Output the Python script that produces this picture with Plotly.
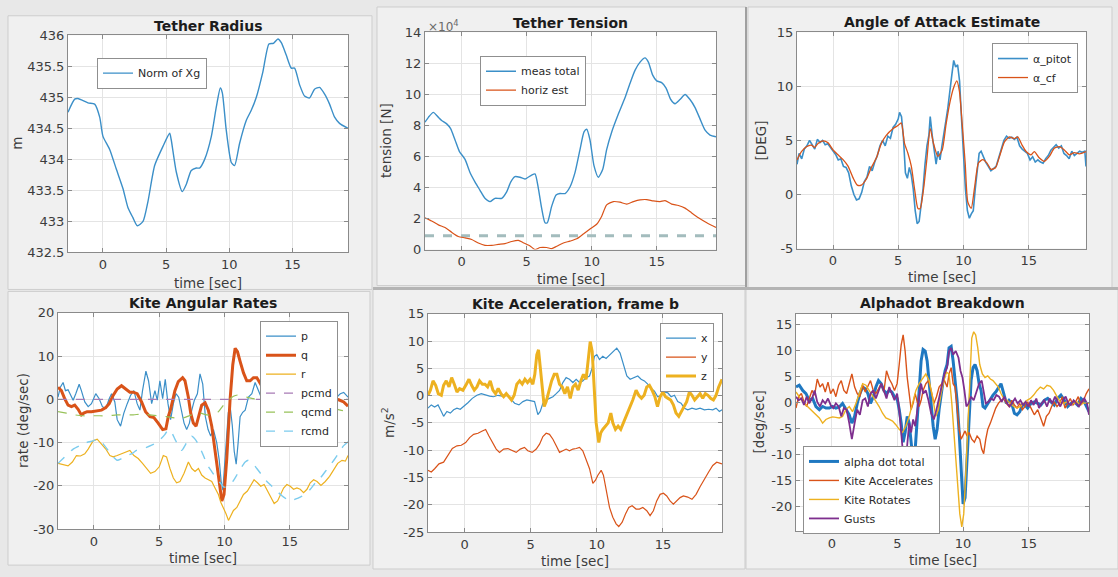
import plotly.graph_objects as go

W, H = 1118, 577

# ---------------- data (time [s], value) ----------------
tether_radius_m = [
    (-2.77, 434.76), (-2.24, 434.97), (-1.98, 434.98), (-1.19, 434.91), (-0.66, 434.89),
    (-0.26, 434.68), (0.0, 434.37), (0.53, 434.16), (1.06, 433.84), (1.58, 433.53),
    (1.98, 433.22), (2.37, 433.06), (2.72, 432.93), (3.17, 433.0), (3.56, 433.32),
    (4.09, 433.9), (4.75, 434.21), (5.28, 434.42), (5.4, 434.32), (5.8, 433.8),
    (6.28, 433.48), (6.6, 433.6), (6.99, 433.82), (7.39, 433.86), (7.65, 433.86),
    (8.05, 434.0), (8.58, 434.37), (8.97, 434.84), (9.29, 435.15), (9.45, 435.07),
    (9.76, 434.47), (10.16, 433.95), (10.42, 433.9), (10.82, 434.26), (11.35, 434.63),
    (11.74, 434.79), (12.14, 435.0), (12.66, 435.41), (13.14, 435.86), (13.5, 435.87),
    (13.85, 435.94), (14.12, 435.88), (14.51, 435.68), (14.91, 435.47), (15.17, 435.47),
    (15.57, 435.2), (15.96, 435.02), (16.36, 434.99), (16.75, 435.13), (17.15, 435.16),
    (17.55, 435.05), (17.94, 434.89), (18.34, 434.68), (18.73, 434.58), (19.4, 434.5),
]

# tether tension in units of 1e4 N
tension_meas_total = [
    (-2.82, 8.21), (-2.56, 8.52), (-2.18, 8.84), (-1.79, 8.52), (-1.54, 8.32), (-1.15, 8.1),
    (-0.85, 7.79), (-0.51, 7.06), (-0.18, 6.33), (0.26, 5.81), (0.64, 4.97), (1.03, 4.35),
    (1.41, 3.82), (1.79, 3.3), (2.18, 3.09), (2.56, 3.3), (3.08, 3.3), (3.46, 3.72),
    (3.77, 4.35), (4.1, 4.7), (4.49, 4.66), (4.87, 4.55), (5.38, 4.8), (5.64, 4.87),
    (5.9, 3.93), (6.15, 2.67), (6.41, 1.73), (6.59, 1.73), (6.92, 2.78), (7.26, 3.51),
    (7.56, 3.61), (7.95, 3.61), (8.33, 4.03), (8.72, 4.97), (9.1, 6.44), (9.41, 7.58),
    (9.62, 7.75), (9.87, 7.06), (10.18, 5.39), (10.51, 4.66), (10.85, 5.18), (11.15, 6.44),
    (11.54, 7.58), (12.05, 8.73), (12.56, 9.78), (12.95, 10.72), (13.33, 11.55), (13.72, 12.08),
    (14.1, 12.35), (14.36, 12.08), (14.69, 11.24), (15.0, 10.87), (15.38, 10.76), (15.72, 10.41),
    (16.08, 9.67), (16.41, 9.4), (16.79, 9.67), (17.18, 9.99), (17.56, 9.67), (17.95, 9.15),
    (18.33, 8.42), (18.72, 7.69), (19.1, 7.38), (19.56, 7.27),
]
tension_horiz_est = [
    (-2.82, 2.05), (-2.31, 1.84), (-1.79, 1.59), (-1.28, 1.42), (-0.77, 1.11), (-0.26, 0.84),
    (0.26, 0.75), (0.77, 0.65), (1.28, 0.42), (1.79, 0.27), (2.31, 0.27), (2.82, 0.33),
    (3.33, 0.38), (3.85, 0.52), (4.36, 0.59), (4.74, 0.44), (5.26, 0.23), (5.64, 0.0),
    (6.03, 0.13), (6.54, 0.13), (6.92, 0.06), (7.31, 0.21), (7.82, 0.42), (8.33, 0.54),
    (8.85, 0.69), (9.36, 1.0), (9.87, 1.32), (10.38, 1.63), (10.77, 2.15), (11.15, 2.88),
    (11.67, 3.09), (12.18, 3.05), (12.69, 2.93), (13.21, 3.09), (13.72, 3.2), (14.23, 3.22),
    (14.74, 3.13), (15.26, 3.09), (15.64, 3.15), (16.15, 2.93), (16.67, 2.84), (17.18, 2.67),
    (17.69, 2.36), (18.21, 2.05), (18.85, 1.73), (19.56, 1.42),
]
tension_limit = [(-2.82, 0.88), (19.56, 0.88)]

alpha_pitot = [
    (-2.76, 2.8), (-2.6, 3.8), (-2.4, 3.3), (-2.2, 4.2), (-2.0, 4.5), (-1.8, 5.0), (-1.6, 4.6),
    (-1.4, 4.2), (-1.2, 5.1), (-1.0, 4.8), (-0.8, 5.0), (-0.6, 4.6), (-0.4, 4.7), (-0.2, 4.4),
    (0.0, 4.0), (0.2, 3.7), (0.4, 3.2), (0.6, 3.3), (0.8, 2.6), (1.0, 2.5), (1.2, 2.0),
    (1.4, 0.8), (1.6, 0.0), (1.8, -0.5), (2.0, -0.4), (2.2, 0.2), (2.4, 1.2), (2.6, 1.6),
    (2.8, 2.6), (3.0, 2.2), (3.2, 3.0), (3.4, 3.6), (3.6, 4.5), (3.8, 5.0), (4.0, 4.5),
    (4.2, 5.4), (4.4, 5.2), (4.6, 6.2), (4.8, 6.5), (5.0, 7.0), (5.1, 7.6), (5.25, 7.2),
    (5.4, 5.2), (5.55, 2.0), (5.7, 1.5), (5.85, 2.5), (6.0, 1.8), (6.15, 0.5), (6.3, -1.5),
    (6.45, -2.7), (6.6, -2.5), (6.75, -1.2), (6.9, 0.5), (7.05, 2.8), (7.2, 4.5), (7.35, 5.5),
    (7.45, 7.2), (7.6, 5.5), (7.75, 4.2), (7.9, 2.8), (8.05, 4.0), (8.2, 3.2), (8.35, 4.5),
    (8.5, 5.5), (8.65, 6.8), (8.8, 8.0), (8.95, 9.8), (9.1, 11.0), (9.25, 12.4), (9.4, 11.8),
    (9.55, 12.0), (9.7, 10.5), (9.85, 7.0), (10.0, 3.5), (10.15, 0.5), (10.3, -1.5),
    (10.45, -2.2), (10.6, -1.8), (10.75, -1.5), (10.9, 0.5), (11.05, 2.5), (11.2, 3.8),
    (11.35, 4.0), (11.5, 3.5), (11.7, 3.0), (11.9, 2.6), (12.1, 2.2), (12.3, 2.4), (12.5, 2.6),
    (12.7, 3.4), (12.9, 4.3), (13.1, 5.0), (13.3, 5.4), (13.5, 5.2), (13.7, 5.3), (13.9, 5.1),
    (14.1, 5.3), (14.3, 4.5), (14.5, 4.2), (14.7, 4.0), (14.9, 3.8), (15.1, 3.2), (15.3, 3.5),
    (15.5, 3.0), (15.7, 3.2), (15.9, 3.0), (16.1, 2.9), (16.3, 3.3), (16.5, 3.6), (16.7, 4.1),
    (16.9, 4.4), (17.1, 4.6), (17.3, 4.3), (17.5, 4.5), (17.7, 3.8), (17.9, 3.6), (18.1, 3.3),
    (18.3, 4.0), (18.5, 3.6), (18.7, 3.8), (18.9, 4.0), (19.1, 3.9), (19.3, 4.0), (19.39, 2.6),
]
alpha_cf = [
    (-2.76, 3.2), (-2.42, 3.97), (-2.04, 4.42), (-1.66, 4.57), (-1.4, 4.36), (-1.15, 4.72),
    (-0.77, 4.96), (-0.38, 4.78), (0.0, 4.12), (0.38, 3.67), (0.77, 3.22), (1.15, 2.62),
    (1.53, 1.56), (1.86, 0.87), (2.17, 0.87), (2.55, 1.41), (2.93, 2.47), (3.32, 3.37),
    (3.7, 4.72), (4.08, 5.47), (4.59, 6.08), (4.97, 6.38), (5.23, 6.62), (5.48, 4.72),
    (5.74, 3.82), (6.0, 2.62), (6.25, 0.51), (6.51, -1.29), (6.68, -1.29), (6.94, 0.51),
    (7.19, 3.22), (7.45, 6.08), (7.7, 4.72), (8.04, 3.52), (8.37, 4.12), (8.67, 6.53),
    (8.98, 8.63), (9.23, 9.83), (9.49, 10.5), (9.69, 9.53), (9.9, 6.53), (10.13, 2.92),
    (10.33, -0.69), (10.59, -1.29), (10.85, 0.66), (11.15, 2.92), (11.48, 3.22), (11.79, 2.92),
    (12.12, 2.32), (12.45, 2.47), (12.76, 3.52), (13.14, 4.87), (13.52, 5.32), (13.9, 5.17),
    (14.16, 5.32), (14.49, 4.57), (14.8, 3.97), (15.18, 3.67), (15.43, 3.97), (15.82, 3.37),
    (16.2, 3.07), (16.58, 3.52), (16.96, 4.27), (17.35, 4.42), (17.73, 4.12), (18.11, 3.67),
    (18.49, 3.88), (18.88, 3.76), (19.39, 3.97),
]

rate_p = [
    (-2.74, 0.5), (-2.56, 2.8), (-2.35, 3.9), (-2.17, 2.0), (-1.97, 2.2), (-1.79, 0.9),
    (-1.58, -0.2), (-1.38, 1.3), (-1.12, 3.5), (-0.95, 2.0), (-0.69, -0.6), (-0.43, -1.7),
    (-0.18, -1.0), (0.15, 1.3), (0.41, 0.15), (0.66, -1.7), (0.92, -2.1), (1.18, 0.15),
    (1.36, 1.3), (1.61, -0.6), (1.79, -4.7), (2.05, -6.2), (2.3, -3.2), (2.56, -1.0),
    (2.81, 0.9), (3.07, 2.0), (3.32, -1.0), (3.53, -2.5), (3.73, 2.0), (3.99, 6.5),
    (4.19, 4.3), (4.43, -1.0), (4.68, 2.0), (4.86, -0.2), (5.06, 4.3), (5.27, 0.15),
    (5.47, 4.6), (5.68, -1.0), (5.88, -4.7), (6.09, -1.0), (6.29, 1.3), (6.5, 0.5),
    (6.71, -2.5), (6.91, -5.5), (7.11, -7.0), (7.32, -5.5), (7.5, -2.5), (7.7, -0.2),
    (7.93, 1.3), (8.13, 5.9), (8.34, 3.5), (8.54, -4.0), (8.75, -7.0), (8.95, -8.5),
    (9.16, -7.0), (9.41, -10.0), (9.6, -14.0), (9.75, -19.0), (9.88, -21.0), (10.0, -16.0),
    (10.15, -8.0), (10.3, -3.0), (10.45, -2.0), (10.6, -6.0), (10.75, -12.0), (10.9, -15.0),
    (11.05, -10.0), (11.2, -4.0), (11.4, -3.0), (11.59, -2.5), (11.84, 0.5), (12.1, 1.3),
    (12.35, 3.9), (12.6, 2.0), (12.86, 0.15), (13.12, -1.0), (13.37, -1.3), (13.62, -1.3),
    (13.88, -3.2), (14.01, -4.7), (14.27, -2.5), (14.53, -3.6), (14.75, -3.2), (14.99, -5.5),
    (15.24, -5.8), (15.5, -3.6), (15.75, -4.0), (16.01, -1.7), (16.27, -3.6), (16.55, -1.7),
    (16.83, -0.6), (17.1, -0.2), (17.34, 0.5), (17.72, -0.2), (18.1, -0.6), (18.36, -0.2),
    (18.6, 0.5), (18.87, 1.3), (19.13, 1.6), (19.46, 0.5),
]
rate_q = [
    (-2.74, 2.8), (-2.48, 2.0), (-2.23, 0.15), (-1.97, -1.35), (-1.71, -1.7), (-1.46, -1.35),
    (-1.2, -2.3), (-0.95, -3.6), (-0.77, -3.2), (-0.51, -2.85), (-0.18, -2.85), (0.2, -2.7),
    (0.59, -2.5), (0.92, -1.9), (1.18, -1.0), (1.48, 0.9), (1.79, 2.4), (2.12, 3.15),
    (2.46, 2.4), (2.76, 1.65), (3.02, 1.65), (3.32, 1.3), (3.66, -0.6), (3.96, -2.85),
    (4.3, -4.0), (4.6, -4.2), (4.93, -5.5), (5.27, -7.0), (5.52, -6.8), (5.7, -4.0),
    (5.88, -2.3), (6.21, 2.0), (6.47, 4.1), (6.8, 5.0), (6.98, 4.3), (7.24, 0.5),
    (7.42, -3.2), (7.62, -5.5), (7.83, -6.2), (8.03, -4.0), (8.26, -1.35), (8.52, -0.8),
    (8.77, -2.5), (9.03, -6.2), (9.28, -11.5), (9.54, -18.2), (9.8, -23.5), (9.97, -22.0),
    (10.18, -13.7), (10.43, -0.2), (10.64, 8.0), (10.82, 11.8), (11.0, 11.0), (11.2, 8.8),
    (11.46, 6.1), (11.71, 4.3), (11.97, 4.3), (12.22, 5.0), (12.48, 5.0), (12.78, 3.5),
    (13.12, 1.65), (13.5, 0.15), (13.88, -0.6), (14.27, -1.0), (14.65, -0.4), (15.04, 0.15),
    (15.42, 0.5), (15.8, 0.5), (16.32, 0.7), (16.83, 0.5), (17.34, 0.5), (17.85, 0.4),
    (18.36, 0.15), (18.75, -0.1), (19.13, -0.6), (19.46, -1.6),
]
rate_r = [
    (-2.74, -14.8), (-2.35, -15.1), (-1.97, -15.4), (-1.64, -14.5), (-1.33, -13.0), (-1.02, -13.1),
    (-0.69, -12.6), (-0.43, -11.5), (-0.05, -9.6), (0.26, -9.2), (0.59, -10.3), (0.92, -11.5),
    (1.23, -13.0), (1.48, -13.3), (1.79, -13.0), (2.12, -12.6), (2.46, -12.2), (2.76, -11.8),
    (3.07, -13.0), (3.4, -13.7), (3.73, -14.8), (4.04, -16.0), (4.35, -17.1), (4.68, -16.7),
    (5.01, -15.6), (5.32, -13.0), (5.57, -13.3), (5.83, -16.0), (6.09, -18.2), (6.34, -19.3),
    (6.6, -19.0), (6.91, -17.1), (7.24, -14.5), (7.5, -16.0), (7.75, -16.7), (8.01, -16.0),
    (8.26, -17.5), (8.52, -18.2), (8.77, -18.6), (9.03, -19.0), (9.28, -20.5), (9.54, -22.0),
    (9.72, -23.8), (9.92, -25.0), (10.13, -26.5), (10.31, -28.0), (10.49, -26.8), (10.69, -25.7),
    (10.95, -25.0), (11.2, -23.5), (11.46, -22.0), (11.76, -21.2), (12.02, -19.7), (12.27, -18.6),
    (12.53, -19.3), (12.78, -20.1), (13.04, -19.7), (13.3, -21.2), (13.55, -22.7), (13.81, -24.1),
    (14.07, -23.5), (14.27, -22.3), (14.53, -20.5), (14.78, -19.7), (15.04, -20.1), (15.29, -20.8),
    (15.55, -20.5), (15.8, -20.8), (16.06, -21.6), (16.32, -20.8), (16.57, -19.3), (16.83, -18.6),
    (17.09, -19.0), (17.39, -19.9), (17.72, -19.0), (18.05, -17.8), (18.36, -16.3), (18.67, -14.8),
    (19.0, -14.1), (19.26, -14.3), (19.46, -13.0),
]
rate_pcmd = [(-2.74, 0.0), (19.46, 0.0)]
rate_qcmd = [
    (-2.74, -2.85), (-2.1, -3.2), (-1.46, -3.6), (-0.82, -3.8), (-0.18, -3.8), (0.46, -3.8),
    (1.1, -3.8), (1.74, -3.6), (2.38, -3.6), (3.02, -3.6), (3.66, -3.4), (4.3, -3.6),
    (4.93, -3.8), (5.57, -4.0), (6.21, -4.3), (6.85, -4.3), (7.49, -3.6), (8.13, -3.2),
    (8.64, -3.6), (9.16, -3.6), (9.54, -2.85), (9.92, -1.35), (10.31, -0.2), (10.69, 0.7),
    (11.0, 1.0), (11.33, 0.9), (11.71, 0.5), (12.22, 0.15), (12.73, -0.2), (13.25, -0.6),
    (13.76, -1.1), (14.27, -1.6), (14.78, -1.9), (15.29, -1.6), (15.8, -1.35), (16.32, -1.1),
    (16.83, -1.35), (17.34, -1.6), (17.85, -1.9), (18.36, -2.1), (18.87, -2.5), (19.46, -2.85),
]
rate_rcmd = [
    (-2.74, -14.8), (-2.35, -13.7), (-1.97, -12.6), (-1.58, -11.5), (-1.07, -10.7), (-0.56, -10.0),
    (-0.05, -9.6), (0.33, -9.2), (0.72, -10.3), (1.1, -11.8), (1.48, -13.3), (1.79, -14.1),
    (2.12, -13.7), (2.51, -13.0), (2.89, -12.6), (3.27, -11.8), (3.66, -11.5), (4.04, -11.1),
    (4.43, -10.6), (4.81, -10.0), (5.12, -9.2), (5.45, -8.1), (5.7, -7.0), (5.96, -7.7),
    (6.21, -9.2), (6.47, -10.7), (6.73, -11.8), (6.98, -10.7), (7.24, -9.2), (7.49, -8.5),
    (7.75, -9.2), (8.06, -10.7), (8.39, -13.0), (8.7, -15.2), (9.03, -16.7), (9.36, -18.2),
    (9.67, -19.3), (9.97, -20.3), (10.31, -20.1), (10.64, -19.0), (10.95, -17.5), (11.25, -16.0),
    (11.59, -14.5), (11.84, -14.1), (12.17, -14.8), (12.48, -16.0), (12.86, -17.5), (13.25, -19.0),
    (13.63, -20.1), (14.01, -21.2), (14.4, -22.3), (14.78, -23.1), (15.09, -23.5), (15.42, -23.1),
    (15.8, -22.6), (16.19, -22.0), (16.57, -20.8), (16.96, -19.3), (17.34, -18.2), (17.72, -16.7),
    (18.11, -15.2), (18.49, -13.6), (18.87, -11.8), (19.13, -10.7), (19.46, -9.8),
]

accel_x = [
    (-2.77, -2.3), (-2.52, -1.7), (-2.27, -2.1), (-2.01, -1.7), (-1.76, -2.9), (-1.59, -3.8),
    (-1.34, -2.9), (-1.08, -3.2), (-0.83, -2.6), (-0.58, -2.3), (-0.33, -2.5), (-0.08, -2.0),
    (0.25, -1.3), (0.58, -0.5), (0.93, 0.06), (1.26, 0.36), (1.59, 0.06), (1.89, -0.1),
    (2.19, -0.2), (2.52, 0.06), (2.85, -0.1), (3.15, 0.36), (3.45, -0.5), (3.78, -1.4),
    (4.11, -1.7), (4.41, -1.1), (4.71, -0.8), (5.04, -1.0), (5.29, -1.1), (5.54, -3.5),
    (5.72, -2.9), (5.92, -1.4), (6.17, -0.8), (6.42, -0.5), (6.68, -0.2), (6.93, 0.36),
    (7.18, 0.96), (7.43, 2.4), (7.68, 3.3), (7.93, 3.0), (8.19, 2.4), (8.44, 3.0),
    (8.69, 2.4), (8.94, 2.7), (9.19, 3.3), (9.45, 3.6), (9.65, 5.1), (9.82, 7.2),
    (10.0, 7.5), (10.2, 6.6), (10.45, 7.2), (10.7, 6.8), (11.0, 7.5), (11.26, 8.1),
    (11.51, 8.7), (11.76, 7.8), (12.01, 5.7), (12.27, 3.6), (12.52, 3.0), (12.77, 3.3),
    (13.1, 3.6), (13.35, 3.0), (13.6, 2.7), (13.85, 2.1), (14.11, 1.3), (14.36, 0.8),
    (14.61, -0.2), (14.86, 0.06), (15.11, 0.66), (15.37, 0.5), (15.62, -0.2), (15.87, 0.06),
    (16.12, -1.1), (16.37, -1.4), (16.63, -2.3), (16.88, -2.6), (17.2, -2.3), (17.51, -2.5),
    (17.81, -2.3), (18.14, -2.6), (18.46, -2.5), (18.77, -2.6), (19.02, -2.3), (19.27, -2.9),
    (19.47, -2.6),
]
accel_y = [
    (-2.77, -13.7), (-2.52, -14.0), (-2.27, -13.4), (-1.94, -12.5), (-1.59, -12.2), (-1.26, -11.0),
    (-0.93, -9.7), (-0.58, -9.2), (-0.25, -9.1), (0.08, -8.6), (0.38, -7.7), (0.68, -7.1),
    (1.01, -6.9), (1.34, -6.5), (1.59, -6.2), (1.84, -7.4), (2.09, -8.6), (2.39, -9.8),
    (2.64, -10.4), (2.95, -9.8), (3.27, -9.7), (3.6, -10.1), (3.9, -10.4), (4.21, -9.8),
    (4.53, -9.5), (4.78, -10.1), (5.11, -10.4), (5.42, -9.8), (5.67, -8.9), (5.92, -7.5),
    (6.17, -6.9), (6.42, -7.1), (6.68, -8.0), (6.93, -9.2), (7.18, -10.4), (7.43, -10.1),
    (7.68, -9.8), (7.93, -10.1), (8.19, -9.8), (8.44, -9.7), (8.69, -9.5), (8.94, -10.1),
    (9.19, -11.6), (9.45, -13.4), (9.7, -16.1), (9.9, -15.5), (10.08, -14.6), (10.33, -13.7),
    (10.5, -14.6), (10.7, -17.0), (10.96, -20.5), (11.21, -22.3), (11.46, -23.5), (11.66, -24.0),
    (11.92, -23.2), (12.17, -21.7), (12.42, -20.5), (12.67, -20.2), (12.97, -20.8), (13.22, -20.8),
    (13.48, -20.5), (13.78, -21.1), (14.03, -22.0), (14.28, -21.1), (14.53, -19.3), (14.79, -18.1),
    (15.04, -17.9), (15.29, -18.4), (15.54, -19.3), (15.79, -19.9), (16.04, -19.3), (16.3, -18.7),
    (16.55, -18.4), (16.88, -18.6), (17.2, -19.0), (17.51, -18.1), (17.81, -16.7), (18.14, -15.2),
    (18.46, -14.0), (18.77, -12.8), (19.07, -12.2), (19.47, -12.5),
]
accel_z = [
    (-2.77, 0.06), (-2.59, 1.0), (-2.39, 2.7), (-2.19, 1.9), (-1.99, 0.36), (-1.76, 0.06),
    (-1.59, 1.9), (-1.39, 2.7), (-1.18, 1.6), (-0.98, 3.3), (-0.78, 2.1), (-0.58, 0.66),
    (-0.38, 1.3), (-0.13, 1.0), (0.13, 2.1), (0.33, 3.0), (0.53, 1.9), (0.73, 1.0),
    (0.93, 1.6), (1.13, 2.7), (1.34, 2.1), (1.54, 2.1), (1.74, 1.6), (1.94, 2.7),
    (2.14, 1.0), (2.34, 0.36), (2.54, 1.3), (2.75, 0.36), (2.95, -0.2), (3.15, 0.36),
    (3.35, -0.2), (3.55, -0.8), (3.75, 0.06), (3.95, 2.1), (4.16, 2.7), (4.36, 2.1),
    (4.56, 3.0), (4.76, 2.4), (4.96, 3.0), (5.16, 2.1), (5.31, 3.9), (5.46, 7.5),
    (5.59, 8.4), (5.72, 5.1), (5.87, 1.0), (6.02, -2.0), (6.17, -1.1), (6.37, 1.0),
    (6.58, 2.7), (6.78, 3.9), (6.98, 3.9), (7.18, 2.1), (7.38, 1.6), (7.58, 0.36),
    (7.78, 1.6), (7.99, -0.5), (8.19, 1.6), (8.39, 2.1), (8.59, 1.0), (8.79, 2.7),
    (8.99, 3.9), (9.19, 3.0), (9.34, 6.3), (9.5, 9.9), (9.65, 8.1), (9.8, 2.1),
    (9.95, -5.0), (10.15, -8.6), (10.3, -6.8), (10.45, -6.2), (10.65, -5.6), (10.86, -5.0),
    (11.06, -3.2), (11.21, -5.0), (11.41, -6.2), (11.61, -5.6), (11.81, -6.2), (12.01, -5.0),
    (12.22, -3.8), (12.47, -2.6), (12.72, -0.8), (12.97, 1.0), (13.17, 0.06), (13.38, -0.5),
    (13.58, 0.06), (13.78, 1.6), (13.98, 1.9), (14.18, 1.0), (14.39, -0.2), (14.59, -2.0),
    (14.79, -0.2), (15.0, 0.66), (15.19, -0.2), (15.39, -0.5), (15.59, -0.8), (15.79, -1.7),
    (15.99, -3.2), (16.2, -3.8), (16.4, -2.9), (16.6, -2.0), (16.8, -1.1), (17.0, 0.66),
    (17.2, 0.06), (17.4, -0.8), (17.61, -0.2), (17.81, 0.36), (18.01, -0.5), (18.21, 0.36),
    (18.41, 0.06), (18.61, -0.5), (18.82, -0.8), (19.02, 0.06), (19.22, 1.6), (19.47, 3.0),
]

alphadot_total = [
    (-2.74, 2.95), (-2.49, 3.3), (-2.23, 2.3), (-1.98, 1.7), (-1.73, 0.4), (-1.47, 0.75),
    (-1.22, -0.8), (-0.96, -1.4), (-0.71, -0.8), (-0.46, -1.1), (-0.2, -1.1), (0.05, -0.8),
    (0.3, -1.1), (0.56, -0.9), (0.81, -0.2), (1.07, -1.3), (1.32, -2.4), (1.52, -4.0),
    (1.73, -2.7), (1.93, -0.2), (2.13, 1.7), (2.34, 2.95), (2.54, 2.6), (2.74, 1.7),
    (2.94, -0.2), (3.15, 1.1), (3.35, 2.95), (3.55, 4.2), (3.76, 3.6), (3.96, 2.3),
    (4.16, 1.7), (4.37, 2.3), (4.57, 2.0), (4.77, 1.1), (4.97, 0.75), (5.13, -1.4),
    (5.28, -4.0), (5.43, -7.7), (5.58, -5.8), (5.74, -2.7), (5.89, -4.0), (6.04, -7.7),
    (6.19, -11.5), (6.35, -9.0), (6.5, -2.7), (6.65, 3.6), (6.8, 8.0), (6.95, 10.2),
    (7.11, 9.9), (7.26, 8.0), (7.41, 3.6), (7.56, -1.4), (7.72, -4.6), (7.87, -7.1),
    (8.02, -5.2), (8.17, -1.4), (8.32, 1.7), (8.48, 4.2), (8.63, 6.1), (8.78, 7.3),
    (8.93, 10.5), (9.09, 10.8), (9.24, 8.0), (9.39, 4.8), (9.54, 0.4), (9.7, -5.8),
    (9.85, -14.0), (10.0, -19.6), (10.15, -18.4), (10.3, -10.2), (10.46, -1.4), (10.61, 4.2),
    (10.76, 6.7), (10.91, 7.3), (11.07, 6.1), (11.22, 3.6), (11.37, 2.3), (11.52, -0.8),
    (11.67, -1.1), (11.88, -0.2), (12.08, 0.75), (12.28, 1.4), (12.49, 2.0), (12.69, 2.95),
    (12.89, 3.6), (13.1, 1.7), (13.3, -0.2), (13.5, 0.4), (13.71, -0.2), (13.91, -2.1),
    (14.11, -2.4), (14.32, -1.8), (14.52, -0.5), (14.72, -0.5), (14.92, -1.1), (15.18, -0.2),
    (15.43, 0.1), (15.69, -0.2), (15.94, -0.5), (16.19, 0.4), (16.45, 0.75), (16.7, 0.1),
    (16.95, -0.5), (17.21, 0.75), (17.46, 1.4), (17.72, 0.4), (17.97, -0.8), (18.22, -0.2),
    (18.48, 0.1), (18.73, -0.5), (18.99, 0.75), (19.24, 0.1), (19.6, -1.8),
]
alphadot_accel = [
    (-2.74, -1.1), (-2.54, 1.1), (-2.33, 1.7), (-2.13, 0.1), (-1.93, -0.8), (-1.73, 0.75),
    (-1.52, 2.3), (-1.32, 1.4), (-1.12, 4.5), (-0.91, 2.95), (-0.71, 3.6), (-0.51, 2.0),
    (-0.3, 3.9), (-0.1, 1.7), (0.1, 2.6), (0.3, 1.1), (0.51, 3.3), (0.71, 4.2),
    (0.91, 2.3), (1.12, 1.7), (1.32, 3.6), (1.52, 5.5), (1.73, 2.95), (1.93, 1.7),
    (2.13, 1.1), (2.34, 3.3), (2.54, 2.0), (2.74, 2.95), (2.94, 4.2), (3.15, 2.3),
    (3.35, 1.7), (3.55, 2.6), (3.76, 3.6), (3.96, 2.0), (4.16, 6.1), (4.37, 4.5),
    (4.57, 3.6), (4.77, 2.3), (4.97, 3.6), (5.13, 7.3), (5.28, 11.1), (5.43, 13.0),
    (5.58, 9.9), (5.74, 4.8), (5.89, 1.7), (6.04, -1.4), (6.19, -0.2), (6.35, 1.7),
    (6.5, 0.1), (6.65, -0.8), (6.8, 0.4), (6.95, 2.3), (7.16, 3.6), (7.36, 4.2),
    (7.56, 2.3), (7.77, -0.2), (7.97, 1.1), (8.17, 2.95), (8.38, 3.6), (8.58, 4.2),
    (8.78, 2.95), (8.93, 5.5), (9.09, 6.7), (9.24, 3.6), (9.39, 2.95), (9.54, -1.4),
    (9.7, -5.2), (9.85, -7.1), (10.0, -6.2), (10.15, -5.5), (10.3, -6.5), (10.46, -5.8),
    (10.66, -7.1), (10.86, -7.7), (11.07, -6.5), (11.27, -7.1), (11.42, -9.0), (11.57, -9.9),
    (11.73, -7.1), (11.88, -5.2), (12.08, -4.0), (12.28, -2.4), (12.49, -1.1), (12.69, -0.2),
    (12.89, 0.4), (13.1, 0.75), (13.3, -0.2), (13.5, -0.8), (13.71, 0.4), (13.91, -0.5),
    (14.11, -1.1), (14.32, -0.2), (14.52, -1.4), (14.72, -0.8), (14.92, 0.1), (15.18, -1.1),
    (15.43, -2.4), (15.69, -1.4), (15.94, -3.3), (16.14, -4.6), (16.35, -2.7), (16.55, -2.1),
    (16.75, -0.8), (16.95, 0.1), (17.16, -0.8), (17.36, -0.2), (17.56, 1.1), (17.77, -1.1),
    (17.97, -0.2), (18.17, 0.75), (18.38, -0.5), (18.58, 0.1), (18.78, 1.1), (18.99, -0.5),
    (19.19, 0.4), (19.39, 1.7), (19.6, 2.6),
]
alphadot_rotate = [
    (-2.74, 2.0), (-2.49, 1.1), (-2.23, 0.1), (-1.98, -0.5), (-1.73, -1.1), (-1.47, -1.8),
    (-1.22, -2.4), (-0.96, -3.0), (-0.71, -4.0), (-0.46, -3.3), (-0.2, -3.0), (0.05, -2.8),
    (0.3, -2.9), (0.56, -3.0), (0.81, -2.7), (1.07, -1.4), (1.32, -0.8), (1.57, -1.8),
    (1.83, -0.2), (2.08, 1.7), (2.34, 3.6), (2.59, 3.3), (2.84, 2.3), (3.1, 1.1),
    (3.35, 0.1), (3.6, -0.8), (3.86, -2.1), (4.11, -3.0), (4.37, -3.3), (4.62, -3.6),
    (4.87, -4.3), (5.13, -5.2), (5.38, -5.8), (5.63, -4.6), (5.89, -2.7), (6.14, -0.2),
    (6.4, 2.3), (6.65, 3.6), (6.9, 4.5), (7.16, 5.5), (7.41, 4.2), (7.67, 1.1),
    (7.92, -2.7), (8.12, -1.4), (8.32, 1.7), (8.53, 4.2), (8.73, 5.8), (8.93, 5.5),
    (9.14, -0.2), (9.29, -5.8), (9.44, -11.5), (9.59, -16.5), (9.75, -21.5), (9.9, -24.0),
    (10.05, -21.5), (10.2, -14.0), (10.36, -4.0), (10.51, 5.5), (10.66, 12.4), (10.81, 13.6),
    (10.96, 13.0), (11.12, 10.5), (11.27, 7.3), (11.47, 5.5), (11.67, 4.8), (11.88, 5.1),
    (12.08, 4.5), (12.28, 4.2), (12.49, 3.6), (12.69, 2.95), (12.89, 1.7), (13.1, 0.75),
    (13.35, 0.4), (13.6, -0.2), (13.86, -0.8), (14.11, -1.1), (14.37, -0.8), (14.62, -0.2),
    (14.87, 0.4), (15.13, 0.75), (15.38, 1.4), (15.64, 2.3), (15.89, 2.95), (16.14, 2.6),
    (16.4, 3.3), (16.65, 3.1), (16.9, 2.3), (17.16, 1.1), (17.41, 0.1), (17.66, -0.2),
    (17.92, 0.1), (18.17, -0.5), (18.43, -0.2), (18.68, 0.1), (18.94, -0.5), (19.19, -0.1),
    (19.6, -0.2),
]
alphadot_gusts = [
    (-2.74, 1.1), (-2.54, 0.4), (-2.33, 0.75), (-2.13, -0.5), (-1.93, 1.1), (-1.73, -0.2),
    (-1.52, 0.75), (-1.32, 2.3), (-1.12, 0.1), (-0.91, -0.8), (-0.71, 0.4), (-0.51, -0.2),
    (-0.3, 0.75), (-0.1, -0.5), (0.1, -1.1), (0.3, -0.2), (0.51, -0.8), (0.71, -2.7),
    (0.91, -1.1), (1.12, -1.4), (1.32, -4.0), (1.52, -7.1), (1.73, -4.0), (1.93, -1.4),
    (2.13, -2.4), (2.34, 0.4), (2.54, 0.75), (2.74, -0.8), (2.94, 1.7), (3.15, 2.3),
    (3.35, 0.75), (3.55, 2.3), (3.76, 3.6), (3.96, 2.3), (4.16, 0.75), (4.37, 2.95),
    (4.57, 1.7), (4.77, 0.4), (4.97, 1.7), (5.13, -1.4), (5.28, -5.8), (5.43, -10.2),
    (5.58, -12.7), (5.74, -7.7), (5.89, -4.0), (6.04, -5.8), (6.19, -3.3), (6.35, -4.6),
    (6.5, -1.4), (6.65, 1.1), (6.8, 3.6), (6.95, 1.7), (7.16, 2.3), (7.36, 0.4),
    (7.56, -2.1), (7.77, -3.3), (7.97, -1.4), (8.17, 1.1), (8.38, 3.6), (8.58, 5.5),
    (8.78, 6.7), (8.93, 9.9), (9.09, 10.5), (9.24, 9.2), (9.44, 9.9), (9.65, 8.6),
    (9.8, 6.1), (9.95, 4.8), (10.1, 2.3), (10.25, -0.8), (10.41, -0.2), (10.61, 1.1),
    (10.81, 0.4), (11.02, 2.3), (11.22, 3.6), (11.42, 4.2), (11.57, 1.7), (11.73, -0.2),
    (11.93, 0.1), (12.13, 0.75), (12.33, 0.4), (12.54, 1.4), (12.74, 1.1), (12.94, 0.1),
    (13.15, 1.1), (13.35, -0.2), (13.55, -0.8), (13.76, 0.1), (13.96, 0.75), (14.16, -0.2),
    (14.37, 0.4), (14.57, -0.5), (14.77, 0.1), (14.97, -0.8), (15.18, 0.4), (15.38, -0.5),
    (15.58, 0.75), (15.79, -1.1), (15.99, -0.2), (16.19, 0.4), (16.4, -0.8), (16.6, 0.75),
    (16.8, -0.2), (17.01, 1.1), (17.21, 0.1), (17.41, -0.8), (17.61, 0.4), (17.82, 1.1),
    (18.02, -0.2), (18.22, -0.5), (18.43, 0.4), (18.63, -0.2), (18.83, -0.8), (19.04, 0.1),
    (19.24, 0.75), (19.45, -0.2), (19.6, -2.4),
]

# ---------------- tick labels ----------------
time_ticks = [0, 5, 10, 15]
radius_ticks = [432.5, 433, 433.5, 434, 434.5, 435, 435.5, 436]
radius_labels = ["432.5", "433", "433.5", "434", "434.5", "435", "435.5", "436"]
tension_ticks = [0, 2, 4, 6, 8, 10, 12, 14]
aoa_ticks = [-5, 0, 5, 10, 15]
rate_ticks = [-30, -20, -10, 0, 10, 20]
accel_ticks = [-25, -20, -15, -10, -5, 0, 5, 10, 15]
alphadot_ticks = [-20, -15, -10, -5, 0, 5, 10, 15]

# ---------------- styling ----------------
FONT = "DejaVu Sans"
TXT = "#3c3c3c"
BLUE = "#1f78c1"
BLUE_THIN = "#3b8fc8"
ORANGE = "#D95319"
YELLOW = "#EDB120"
PURPLE = "#7E2F8E"

# plot boxes in pixels: (left, top, right, bottom)
panels = [
    dict(box=(68, 29, 348, 252), xr=[-2.77, 19.4], yr=[432.5, 436], yt=radius_ticks,
         yl=radius_labels, title="Tether Radius", title_y=19, xt_y=283, ytitle="m", yt_x=17),
    dict(box=(425, 26, 716, 249), xr=[-2.82, 19.56], yr=[0, 14], yt=tension_ticks,
         yl=None, title="Tether Tension", title_y=16, xt_y=279, ytitle="tension [N]", yt_x=386),
    dict(box=(797, 26, 1086, 248), xr=[-2.76, 19.39], yr=[-5, 15], yt=aoa_ticks,
         yl=None, title="Angle of Attack Estimate", title_y=15, xt_y=277, ytitle="[DEG]", yt_x=761),
    dict(box=(58, 314, 348, 536), xr=[-2.74, 19.46], yr=[-30, 20], yt=rate_ticks,
         yl=None, title="Kite Angular Rates", title_y=304, xt_y=566, ytitle="rate (deg/sec)", yt_x=23),
    dict(box=(428, 315, 722, 539), xr=[-2.77, 19.47], yr=[-25, 15], yt=accel_ticks,
         yl=None, title="Kite Acceleration, frame b", title_y=305, xt_y=569,
         ytitle="m/s<sup>2</sup>", yt_x=388),
    dict(box=(796, 315, 1089, 538), xr=[-2.74, 19.6], yr=[-24.8, 17.07], yt=alphadot_ticks,
         yl=None, title="Alphadot Breakdown", title_y=304, xt_y=568, ytitle="[deg/sec]", yt_x=759),
]

fig = go.Figure()


def add_line(panel, series, name, color, width=1.2, dash="solid", legend=True, shape="linear"):
    t, v = zip(*series)
    suffix = "" if panel == 1 else str(panel)
    fig.add_trace(go.Scatter(
        x=list(t), y=list(v), mode="lines", name=name,
        xaxis="x" + suffix, yaxis="y" + suffix,
        legend="legend" + suffix, showlegend=legend,
        line=dict(color=color, width=width, dash=dash, shape=shape, smoothing=0.6),
    ))


add_line(1, tether_radius_m, "Norm of Xg", BLUE_THIN, 1.4, shape="spline")

add_line(2, tension_limit, "limit", "#a3bcbd", 3, dash="dash", legend=False)
add_line(2, tension_meas_total, "meas total", BLUE_THIN, 1.4, shape="spline")
add_line(2, tension_horiz_est, "horiz est", ORANGE, 1.2, shape="spline")

add_line(3, alpha_pitot, "α_pitot", BLUE_THIN, 1.6)
add_line(3, alpha_cf, "α_cf", ORANGE, 1.3, shape="spline")

add_line(4, rate_p, "p", BLUE_THIN, 1.2)
add_line(4, rate_q, "q", ORANGE, 3)
add_line(4, rate_r, "r", YELLOW, 1.2)
add_line(4, rate_pcmd, "pcmd", "#a87bb5", 1.2, dash="dash")
add_line(4, rate_qcmd, "qcmd", "#98c25a", 1.2, dash="dash", shape="spline")
add_line(4, rate_rcmd, "rcmd", "#7cccee", 1.4, dash="dash", shape="spline")

add_line(5, accel_x, "x", BLUE_THIN, 1.2)
add_line(5, accel_y, "y", ORANGE, 1.2)
add_line(5, accel_z, "z", YELLOW, 3)

add_line(6, alphadot_total, "alpha dot total", BLUE, 3)
add_line(6, alphadot_accel, "Kite Accelerates", ORANGE, 1.4)
add_line(6, alphadot_rotate, "Kite Rotates", YELLOW, 1.4)
add_line(6, alphadot_gusts, "Gusts", PURPLE, 1.8)

axis_common = dict(
    showline=True, linecolor="#8a8a8a", linewidth=1, mirror="ticks",
    ticks="inside", ticklen=4, tickcolor="#8a8a8a",
    showgrid=True, gridcolor="#e4e4e4", gridwidth=1, zeroline=False,
    tickfont=dict(family=FONT, size=13, color=TXT),
)

# window frames behind each figure
frames = [
    (8, 9, 372, 290), (377, 0, 746, 286), (748, 0, 1112, 290),
    (8, 292, 370, 573), (373, 290, 745, 577), (746, 290, 1118, 577),
]
shapes = []
for fx0, fy0, fx1, fy1 in frames:
    shapes.append(dict(
        type="rect", xref="paper", yref="paper", layer="below",
        x0=fx0 / W, x1=fx1 / W, y0=1 - fy1 / H, y1=1 - fy0 / H,
        fillcolor="#f0f0f0", line=dict(color="#cdcdcd", width=1),
    ))
shapes.append(dict(type="line", xref="paper", yref="paper", layer="below",
                   x0=746 / W, x1=746 / W, y0=1 - 290 / H, y1=1,
                   line=dict(color="#a0a0a0", width=2)))
shapes.append(dict(type="line", xref="paper", yref="paper", layer="below",
                   x0=373 / W, x1=1, y0=1 - 289 / H, y1=1 - 289 / H,
                   line=dict(color="#b4b4b4", width=3)))

annotations = []
layout_axes = {}
for i, p in enumerate(panels, start=1):
    x0, y0, x1, y1 = p["box"]
    suffix = "" if i == 1 else str(i)
    # white axes background over the window frame
    shapes.append(dict(
        type="rect", xref="paper", yref="paper", layer="below",
        x0=x0 / W, x1=x1 / W, y0=1 - y1 / H, y1=1 - y0 / H,
        fillcolor="white", line=dict(width=0),
    ))
    layout_axes["xaxis" + suffix] = dict(
        axis_common, domain=[x0 / W, x1 / W], range=p["xr"], anchor="y" + suffix,
        tickvals=time_ticks, ticktext=[str(v) for v in time_ticks],
    )
    layout_axes["yaxis" + suffix] = dict(
        axis_common, domain=[1 - y1 / H, 1 - y0 / H], range=p["yr"], anchor="x" + suffix,
        tickvals=p["yt"],
        ticktext=p["yl"] if p["yl"] else [str(v) for v in p["yt"]],
    )
    cx = (x0 + x1) / 2 / W
    annotations.append(dict(
        text="<b>" + p["title"] + "</b>", x=cx, y=1 - p["title_y"] / H,
        xref="paper", yref="paper", showarrow=False, xanchor="center", yanchor="middle",
        font=dict(family=FONT, size=14, color="#1c1c1c"),
    ))
    annotations.append(dict(
        text="time [sec]", x=cx, y=1 - p["xt_y"] / H,
        xref="paper", yref="paper", showarrow=False, xanchor="center", yanchor="middle",
        font=dict(family=FONT, size=13.5, color=TXT),
    ))
    annotations.append(dict(
        text=p["ytitle"], x=p["yt_x"] / W, y=1 - (y0 + y1) / 2 / H, textangle=-90,
        xref="paper", yref="paper", showarrow=False, xanchor="center", yanchor="middle",
        font=dict(family=FONT, size=13.5, color=TXT),
    ))

annotations.append(dict(
    text="×10<sup>4</sup>", x=426 / W, y=1 - 19 / H, xref="paper", yref="paper",
    showarrow=False, xanchor="left", yanchor="middle",
    font=dict(family=FONT, size=12, color="#6a6a6a"),
))

legend_common = dict(
    bgcolor="white", bordercolor="#8f8f8f", borderwidth=1,
    font=dict(family=FONT, size=11, color="#2a2a2a"), itemwidth=30,
    xref="paper", yref="paper",
)

fig.update_layout(
    width=W, height=H, margin=dict(l=0, r=0, t=0, b=0),
    paper_bgcolor="#e8e8e8", plot_bgcolor="white",
    annotations=annotations, shapes=shapes,
    legend=dict(legend_common, x=97 / W, y=1 - 52 / H, xanchor="left", yanchor="top"),
    legend2=dict(legend_common, x=480 / W, y=1 - 50 / H, xanchor="left", yanchor="top"),
    legend3=dict(legend_common, x=1078 / W, y=1 - 37 / H, xanchor="right", yanchor="top"),
    legend4=dict(legend_common, x=338 / W, y=1 - 322 / H, xanchor="right", yanchor="top"),
    legend5=dict(legend_common, x=714 / W, y=1 - 324 / H, xanchor="right", yanchor="top"),
    legend6=dict(legend_common, x=803 / W, y=1 - 541 / H, xanchor="left", yanchor="bottom"),
    **layout_axes,
)

fig.write_html("out.html")
